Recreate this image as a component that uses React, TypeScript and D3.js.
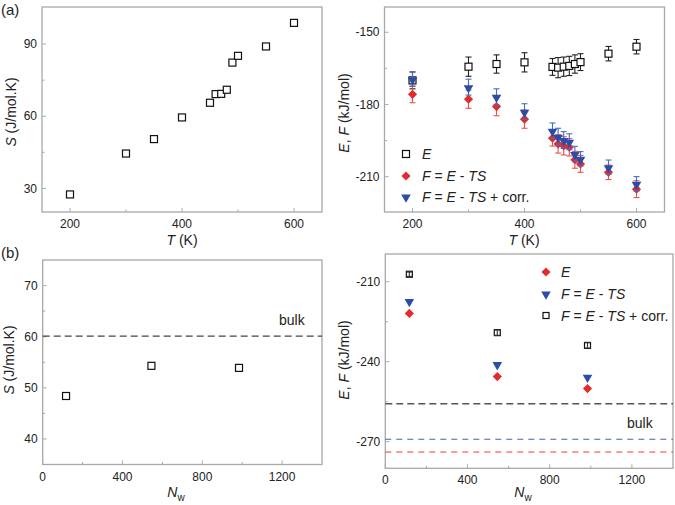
import * as d3 from 'd3';
import React from 'react';

// panel (a): temperature series
const temps = [200, 300, 350, 400, 450, 460, 470, 480, 490, 500, 550, 600];
const entropyT = [27.5, 44.5, 50.5, 59.5, 65.6, 69.2, 69.3, 71, 82.3, 85.1, 89, 98.8];
const energyT = [-170, -164.3, -163.2, -162.5, -164.4, -164.7, -164.3, -164, -163.2, -162.4, -158.9, -156];
const energyErr = [3.5, 4, 3.8, 4, 3.5, 4.2, 4, 4, 3.8, 3.5, 3, 3];
const freeT = [-175.8, -177.8, -180.9, -186.1, -194, -196.4, -197.2, -197.8, -203, -204.7, -208.2, -215.2];
const freeErr = [3.5, 3.8, 3.8, 3.8, 3.3, 3.8, 3.8, 3.6, 3.5, 3.5, 3, 3.5];
const freeCorrT = [-169.5, -172.8, -176.8, -183, -190.9, -193.4, -194.8, -195.5, -200.6, -202.6, -206.1, -213];
const freeCorrErr = [3, 3.3, 3.3, 3.3, 3.2, 3.5, 3.5, 3.3, 3.2, 3, 3, 3];

// panel (b): size series
const nWater = [117, 545, 984];
const entropyN = [48.4, 54.3, 53.9];
const energyN = [-221.9, -245.6, -250.1];
const freeN = [-217.2, -240.9, -245.6];
const freeCorrN = [-207.2, -229.1, -233.9];
const freeCorrErrN = [0.8, 1, 1];
const bulkS = 60.1;
const bulkFreeCorr = -255.8;
const bulkFree = -269.1;
const bulkE = -273.9;

const tTicks = [200, 400, 600];
const tMinor = [300, 500];
const nTicks = [0, 400, 800, 1200];
const nMinor = [200, 600, 1000];

const font = "'Liberation Sans', Arial, Helvetica, sans-serif";
const RED = '#e42b2b';
const BLUE = '#2a4ea8';
const FRAME = '#a8a8a8';

type Scale = d3.ScaleLinear<number, number>;

function Frame({ x, y, xTicks, xMinor, yTicks, yMinor, xFmt }: {
  x: Scale; y: Scale; xTicks: number[]; xMinor: number[]; yTicks: number[]; yMinor: number[]; xFmt?: (v: number) => string;
}) {
  const [x0, x1] = x.range();
  const [y0, y1] = y.range(); // y0 bottom
  return (
    <g>
      <rect x={x0} y={y1} width={x1 - x0} height={y0 - y1} fill="none" stroke={FRAME} strokeWidth={1.3} />
      {xTicks.map(t => (
        <g key={'xt' + t}>
          <line x1={x(t)} x2={x(t)} y1={y0} y2={y0 - 4} stroke={FRAME} />
          <text x={x(t)} y={y0 + 16} textAnchor="middle" fontSize={12} fill="#222">{xFmt ? xFmt(t) : t}</text>
        </g>
      ))}
      {xMinor.map(t => (
        <line key={'xm' + t} x1={x(t)} x2={x(t)} y1={y0} y2={y0 - 2.5} stroke={FRAME} />
      ))}
      {yTicks.map(t => (
        <g key={'yt' + t}>
          <line x1={x0} x2={x0 + 4} y1={y(t)} y2={y(t)} stroke={FRAME} />
          <text x={x0 - 5} y={y(t) + 4.2} textAnchor="end" fontSize={12} fill="#222">{t}</text>
        </g>
      ))}
      {yMinor.map(t => (
        <line key={'ym' + t} x1={x0} x2={x0 + 2.5} y1={y(t)} y2={y(t)} stroke={FRAME} />
      ))}
    </g>
  );
}

const diamond = d3.symbol(d3.symbolSquare, 42)()!;
const triDown = d3.symbol(d3.symbolTriangle, 40)()!;

function Square({ cx, cy, s = 7 }: { cx: number; cy: number; s?: number }) {
  return <rect x={cx - s / 2} y={cy - s / 2} width={s} height={s} fill="white" stroke="#111" strokeWidth={1.2} />;
}
function Diamond({ cx, cy }: { cx: number; cy: number }) {
  return <path d={diamond} transform={`translate(${cx},${cy}) rotate(45)`} fill={RED} />;
}
function Tri({ cx, cy }: { cx: number; cy: number }) {
  return <path d={triDown} transform={`translate(${cx},${cy + 0.8}) rotate(180)`} fill={BLUE} />;
}
function ErrBar({ cx, lo, hi, color }: { cx: number; lo: number; hi: number; color: string }) {
  return (
    <g stroke={color} strokeWidth={1.1}>
      <line x1={cx} x2={cx} y1={lo} y2={hi} />
      <line x1={cx - 3} x2={cx + 3} y1={lo} y2={lo} />
      <line x1={cx - 3} x2={cx + 3} y1={hi} y2={hi} />
    </g>
  );
}

function YTitle({ x, y, children }: { x: number; y: number; children: React.ReactNode }) {
  return (
    <text transform={`translate(${x},${y}) rotate(-90)`} textAnchor="middle" fontSize={14} fill="#222">{children}</text>
  );
}

const FTS = (
  <>
    <tspan fontStyle="italic">F</tspan> = <tspan fontStyle="italic">E</tspan> - <tspan fontStyle="italic">TS</tspan>
  </>
);

export default function App() {
  // (a) left
  const xA1 = d3.scaleLinear().domain([150, 650]).range([42, 322]);
  const yA1 = d3.scaleLinear().domain([20.2, 105.4]).range([212, 7]);
  // (a) right
  const xA2 = d3.scaleLinear().domain([150, 650]).range([384.5, 664.5]);
  const yA2 = d3.scaleLinear().domain([-224.7, -139.5]).range([212, 7]);
  // (b) left
  const xB1 = d3.scaleLinear().domain([0, 1400]).range([42.7, 322]);
  const yB1 = d3.scaleLinear().domain([35, 75]).range([464.5, 260]);
  // (b) right
  const xB2 = d3.scaleLinear().domain([0, 1400]).range([385.3, 673]);
  const yB2 = d3.scaleLinear().domain([-280, -199.6]).range([468.3, 254]);

  return (
    <svg width={675} height={505} style={{ position: 'absolute', left: 0, top: 0, background: 'white' }} fontFamily={font}>
      <text x={1} y={15} fontSize={15} fill="#222">(a)</text>
      <text x={1} y={258} fontSize={15} fill="#222">(b)</text>

      {/* (a) left: S vs T */}
      <Frame x={xA1} y={yA1} xTicks={tTicks} xMinor={tMinor} yTicks={[30, 60, 90]} yMinor={[45, 75]} />
      {temps.map((t, i) => <Square key={'sa' + i} cx={xA1(t)} cy={yA1(entropyT[i])} />)}
      <YTitle x={16} y={112}><tspan fontStyle="italic">S</tspan> (J/mol.K)</YTitle>
      <text x={182} y={245} textAnchor="middle" fontSize={14} fill="#222"><tspan fontStyle="italic">T</tspan> (K)</text>

      {/* (a) right: E, F vs T */}
      <Frame x={xA2} y={yA2} xTicks={tTicks} xMinor={tMinor} yTicks={[-150, -180, -210]} yMinor={[-165, -195]} />
      {temps.map((t, i) => (
        <g key={'ea' + i}>
          <ErrBar cx={xA2(t)} lo={yA2(energyT[i] - energyErr[i])} hi={yA2(energyT[i] + energyErr[i])} color="#222" />
          <Square cx={xA2(t)} cy={yA2(energyT[i])} />
        </g>
      ))}
      {temps.map((t, i) => (
        <g key={'fa' + i}>
          <ErrBar cx={xA2(t)} lo={yA2(freeT[i] - freeErr[i])} hi={yA2(freeT[i] + freeErr[i])} color="#ea5050" />
          <Diamond cx={xA2(t)} cy={yA2(freeT[i])} />
        </g>
      ))}
      {temps.map((t, i) => (
        <g key={'ca' + i}>
          <ErrBar cx={xA2(t)} lo={yA2(freeCorrT[i] - freeCorrErr[i])} hi={yA2(freeCorrT[i] + freeCorrErr[i])} color="#4a6cc0" />
          <Tri cx={xA2(t)} cy={yA2(freeCorrT[i])} />
        </g>
      ))}
      <Square cx={406} cy={154} />
      <text x={422} y={159} fontSize={14} fill="#222"><tspan fontStyle="italic">E</tspan></text>
      <Diamond cx={406} cy={176} />
      <text x={422} y={181} fontSize={14} fill="#222">{FTS}</text>
      <Tri cx={406} cy={196.5} />
      <text x={422} y={202} fontSize={14} fill="#222">{FTS} + corr.</text>
      <YTitle x={349} y={113}><tspan fontStyle="italic">E</tspan>, <tspan fontStyle="italic">F</tspan> (kJ/mol)</YTitle>
      <text x={524} y={245} textAnchor="middle" fontSize={14} fill="#222"><tspan fontStyle="italic">T</tspan> (K)</text>

      {/* (b) left: S vs N_w */}
      <Frame x={xB1} y={yB1} xTicks={nTicks} xMinor={nMinor} yTicks={[40, 50, 60, 70]} yMinor={[45, 55, 65]} />
      <line x1={xB1(0)} x2={xB1(1400)} y1={yB1(bulkS)} y2={yB1(bulkS)} stroke="#444" strokeWidth={1.3} strokeDasharray="7,4" />
      <text x={279} y={325} fontSize={14} fill="#222">bulk</text>
      {nWater.map((n, i) => <Square key={'sb' + i} cx={xB1(n)} cy={yB1(entropyN[i])} />)}
      <YTitle x={14} y={360}><tspan fontStyle="italic">S</tspan> (J/mol.K)</YTitle>
      <text x={176} y={497} textAnchor="middle" fontSize={14} fill="#222">
        <tspan fontStyle="italic">N</tspan><tspan fontSize={10} dy={4}>w</tspan>
      </text>

      {/* (b) right: E, F vs N_w */}
      <Frame x={xB2} y={yB2} xTicks={nTicks} xMinor={nMinor} yTicks={[-210, -240, -270]} yMinor={[-225, -255]} />
      <line x1={xB2(0)} x2={xB2(1400)} y1={yB2(bulkFreeCorr)} y2={yB2(bulkFreeCorr)} stroke="#555" strokeWidth={1.5} strokeDasharray="7,4" />
      <line x1={xB2(0)} x2={xB2(1400)} y1={yB2(bulkFree)} y2={yB2(bulkFree)} stroke="#4060c0" strokeWidth={1} strokeDasharray="6,5" />
      <line x1={xB2(0)} x2={xB2(1400)} y1={yB2(bulkE)} y2={yB2(bulkE)} stroke="#ee3a3a" strokeWidth={1} strokeDasharray="6,5" />
      <text x={627} y={428} fontSize={14} fill="#222">bulk</text>
      {nWater.map((n, i) => (
        <g key={'nb' + i}>
          <Diamond cx={xB2(n)} cy={yB2(energyN[i])} />
          <Tri cx={xB2(n)} cy={yB2(freeN[i])} />
          <Square cx={xB2(n)} cy={yB2(freeCorrN[i])} s={6} />
          <ErrBar cx={xB2(n)} lo={yB2(freeCorrN[i] - freeCorrErrN[i])} hi={yB2(freeCorrN[i] + freeCorrErrN[i])} color="#333" />
        </g>
      ))}
      <Diamond cx={546} cy={272} />
      <text x={561} y={277} fontSize={14} fill="#222"><tspan fontStyle="italic">E</tspan></text>
      <Tri cx={546} cy={293.5} />
      <text x={561} y={299} fontSize={14} fill="#222">{FTS}</text>
      <Square cx={546} cy={315.5} s={6} />
      <text x={561} y={320.5} fontSize={14} fill="#222">{FTS} + corr.</text>
      <YTitle x={349} y={360}><tspan fontStyle="italic">E</tspan>, <tspan fontStyle="italic">F</tspan> (kJ/mol)</YTitle>
      <text x={523} y={497} textAnchor="middle" fontSize={14} fill="#222">
        <tspan fontStyle="italic">N</tspan><tspan fontSize={10} dy={4}>w</tspan>
      </text>
    </svg>
  );
}
